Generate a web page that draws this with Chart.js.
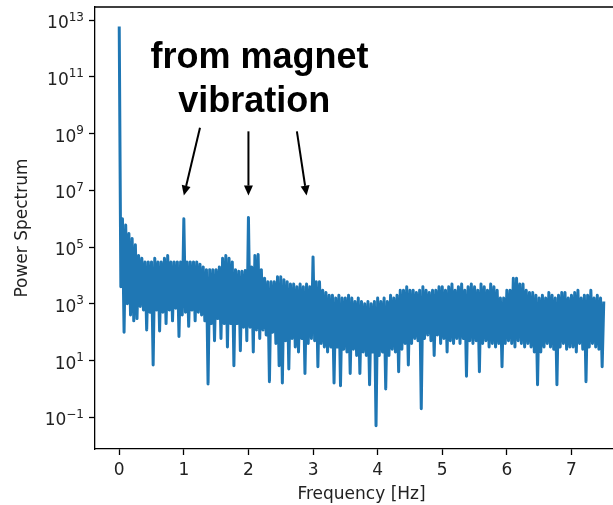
<!DOCTYPE html>
<html>
<head>
<title>Power spectrum</title>
<script src="https://cdn.jsdelivr.net/npm/chart.js@4.4.1/dist/chart.umd.min.js"></script>
<style>
    html, body { margin: 0; padding: 0; overflow: hidden; background: #fff; }
    canvas { display: block; }
</style>
</head>
<body>
<canvas id="spectrum" width="628" height="505"></canvas>
<script>
// frequency spacing of the spectrum samples, Hz (first sample at 0 Hz)
const freqStep = 0.025;

// power spectrum, one value per frequency sample from 0 to 7.5 Hz
const power = [
    6e12, 4e3, 1e6, 1e2, 6e5, 1e3, 3e5, 4e2, 2e5, 2.5e2,
    1.2e5, 3e2, 5e4, 8e2, 4e4, 6e2, 3e4, 1.2e2, 3e4, 5e2,
    3e4, 7, 4e4, 6e2, 3e4, 1.1e2, 3e4, 5e2, 4e4, 2e2,
    5e4, 6e2, 3e4, 2.5e2, 3e4, 7e2, 3e4, 70, 3e4, 4e2,
    1e6, 5e2, 3e4, 1.6e2, 3e4, 6e2, 3e4, 2.5e2, 3e4, 5e2,
    2.5e4, 4e2, 2e4, 2.5e2, 1.6e4, 1.5, 1.6e4, 2e2, 1.6e4, 50,
    1.6e4, 3e2, 2e4, 60, 4e4, 2e2, 5e4, 30, 4e4, 2e2,
    3e4, 6.5, 1.6e4, 2e2, 1.4e4, 22, 1.4e4, 1.5e2, 1.5e4, 50,
    1.1e6, 1.5e2, 2e4, 20, 5e4, 1.2e2, 5.5e4, 60, 1.6e4, 1.2e2,
    8e3, 80, 6e3, 1.8, 6e3, 1e2, 6e3, 40, 9e3, 6.5,
    9e3, 1.6, 7e3, 50, 6e3, 5, 5e3, 60, 5e3, 30,
    4e3, 20, 5e3, 60, 4e3, 3.5, 5e3, 40, 4e3, 60,
    4.5e4, 50, 6e3, 6, 6e3, 40, 3e3, 30, 2.5e3, 20,
    2e3, 30, 2e3, 1.6, 1.6e3, 30, 2e3, 1.3, 1.6e3, 25,
    1.6e3, 20, 2e3, 3.5, 1.6e3, 25, 1.2e3, 15, 1.6e3, 3.5,
    1.2e3, 20, 1e3, 15, 1.2e3, 1.4, 1e3, 20, 1.2e3, 0.05,
    1.6e3, 15, 1.2e3, 20, 1.6e3, 1, 1.2e3, 15, 2e3, 25,
    1.6e3, 20, 2e3, 4, 3e3, 25, 3e3, 40, 4e3, 7,
    3e3, 40, 3e3, 60, 2.5e3, 50, 3e3, 0.2, 4e3, 60,
    3e3, 80, 2.5e3, 50, 3e3, 15, 3e3, 80, 4e3, 40,
    4e3, 60, 3e3, 20, 4e3, 50, 5e3, 40, 3e3, 60,
    4e3, 40, 5e3, 60, 3e3, 2.8, 4e3, 50, 5e3, 40,
    4e3, 50, 3e3, 4, 5e3, 40, 4e3, 50, 3e3, 30,
    5e3, 40, 4e3, 30, 3e3, 40, 1.6e3, 6, 1.6e3, 40,
    3e3, 50, 3e3, 40, 8e3, 30, 8e3, 50, 5e3, 40,
    5e3, 30, 3e3, 40, 2.5e3, 30, 2.5e3, 20, 2e3, 1.4,
    1.6e3, 20, 2e3, 30, 1.6e3, 40, 2.5e3, 30, 2e3, 25,
    1.6e3, 1.4, 2e3, 30, 2.5e3, 40, 2.5e3, 25, 1.6e3, 30,
    2e3, 30, 2.5e3, 20, 3e3, 40, 1.6e3, 25, 2e3, 1.8,
    2e3, 30, 3e3, 40, 1.6e3, 30, 2e3, 25, 1.6e3, 6, 1.2e3
];

const freqTicks = [0, 1, 2, 3, 4, 5, 6, 7];
const powerTicks = [1e-1, 1e1, 1e3, 1e5, 1e7, 1e9, 1e11, 1e13];

// arrows from the note down to the vibration peaks: [freq, power]
const arrowTails = [[1.25, 1.6e9], [2.0, 1.2e9], [2.75, 1.2e9]];
const arrowTips = [[1.0, 6.5e6], [2.0, 6.5e6], [2.9, 6.5e6]];
const noteLines = ['from magnet', 'vibration'];
const noteAnchors = [[2.17, 2.1e11], [2.09, 6e9]];

const points = power.map((p, i) => ({x: i * freqStep, y: p}));

const labelColor = '#222';
const labelFamily = '"DejaVu Sans", sans-serif';

// frame, y tick labels as 10 with a raised exponent, arrows and the note
const extras = {
    id: 'extras',
    afterDraw(chart) {
        const ctx = chart.ctx;
        const area = chart.chartArea;
        const xs = chart.scales.x;
        const ys = chart.scales.y;
        ctx.save();
        ctx.strokeStyle = '#000';
        ctx.lineWidth = 1.3;
        ctx.beginPath();
        ctx.moveTo(area.left, area.top);
        ctx.lineTo(area.right, area.top);
        ctx.lineTo(area.right, area.bottom);
        ctx.stroke();

        ctx.fillStyle = labelColor;
        ctx.textAlign = 'right';
        ctx.textBaseline = 'alphabetic';
        const labelRight = area.left - 11;
        powerTicks.forEach(v => {
            const y = ys.getPixelForValue(v);
            const exp = String(Math.round(Math.log10(v))).replace('-', '\u2212');
            ctx.font = '12px ' + labelFamily;
            const expWidth = ctx.measureText(exp).width;
            ctx.fillText(exp, labelRight, y + 0.5);
            ctx.font = '17px ' + labelFamily;
            ctx.fillText('10', labelRight - expWidth, y + 8);
        });

        ctx.fillStyle = '#000';
        ctx.lineWidth = 2;
        for (let i = 0; i < arrowTails.length; i++) {
            const x0 = xs.getPixelForValue(arrowTails[i][0]);
            const y0 = ys.getPixelForValue(arrowTails[i][1]);
            const x1 = xs.getPixelForValue(arrowTips[i][0]);
            const y1 = ys.getPixelForValue(arrowTips[i][1]);
            const ang = Math.atan2(y1 - y0, x1 - x0);
            const headLen = 10, headHalf = 4.5;
            const bx = x1 - headLen * Math.cos(ang);
            const by = y1 - headLen * Math.sin(ang);
            ctx.beginPath();
            ctx.moveTo(x0, y0);
            ctx.lineTo(bx, by);
            ctx.stroke();
            ctx.beginPath();
            ctx.moveTo(x1, y1);
            ctx.lineTo(bx + headHalf * Math.sin(ang), by - headHalf * Math.cos(ang));
            ctx.lineTo(bx - headHalf * Math.sin(ang), by + headHalf * Math.cos(ang));
            ctx.closePath();
            ctx.fill();
        }

        ctx.font = 'bold 36px "Liberation Sans", Arial, sans-serif';
        ctx.textAlign = 'center';
        noteLines.forEach((line, i) => {
            ctx.fillText(line, xs.getPixelForValue(noteAnchors[i][0]), ys.getPixelForValue(noteAnchors[i][1]));
        });
        ctx.restore();
    }
};

const tickFont = {family: labelFamily, size: 17};

new Chart(document.getElementById('spectrum'), {
    type: 'line',
    data: {
        datasets: [{
            data: points,
            borderColor: '#1f77b4',
            borderWidth: 3,
            borderJoinStyle: 'round',
            pointRadius: 0,
            tension: 0
        }]
    },
    options: {
        responsive: false,
        animation: false,
        events: [],
        layout: {padding: {top: 7, left: 0, right: 0, bottom: 0}},
        plugins: {legend: {display: false}, tooltip: {enabled: false}},
        scales: {
            x: {
                type: 'linear',
                min: -0.375,
                max: 7.875,
                afterBuildTicks: axis => { axis.ticks = freqTicks.map(v => ({value: v})); },
                afterFit: axis => { axis.height = 56; axis.paddingLeft = 0; axis.paddingRight = 0; },
                border: {display: true, color: '#000', width: 1.3},
                grid: {drawOnChartArea: false, drawTicks: true, tickLength: 6, color: '#000', tickWidth: 1.3},
                ticks: {color: labelColor, font: tickFont, padding: 5, maxRotation: 0, callback: v => String(v)},
                title: {display: true, text: 'Frequency [Hz]', color: labelColor, font: tickFont, padding: {top: 0, bottom: 0}}
            },
            y: {
                type: 'logarithmic',
                min: 0.0076,
                max: 2.9e13,
                afterBuildTicks: axis => { axis.ticks = powerTicks.map(v => ({value: v})); },
                afterFit: axis => { axis.width = 95; axis.paddingTop = 0; axis.paddingBottom = 0; },
                border: {display: true, color: '#000', width: 1.3},
                grid: {drawOnChartArea: false, drawTicks: true, tickLength: 6, color: '#000', tickWidth: 1.3},
                // labels are drawn by the extras plugin
                ticks: {color: 'rgba(0,0,0,0)', font: tickFont, padding: 5},
                title: {display: true, text: 'Power Spectrum', color: labelColor, font: tickFont, padding: {top: 12, bottom: 2}}
            }
        }
    },
    plugins: [extras]
});
</script>
</body>
</html>
